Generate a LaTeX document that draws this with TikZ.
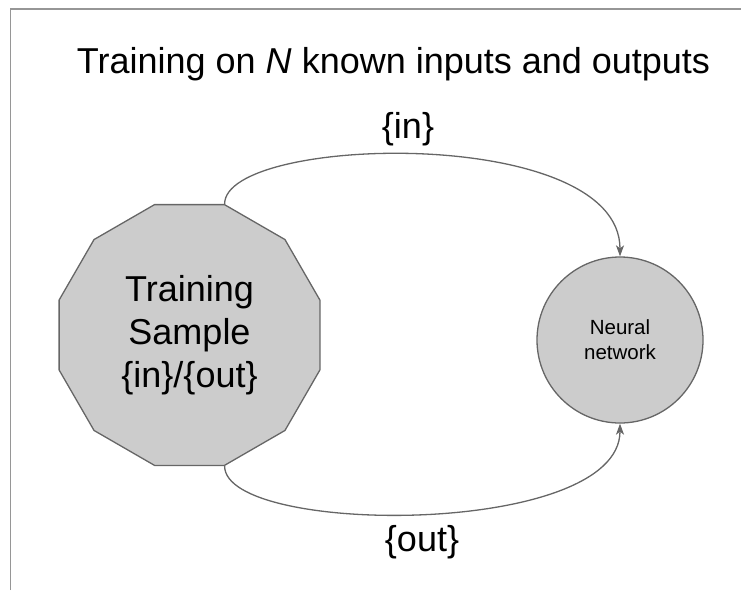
\documentclass[tikz,border=0pt]{standalone}
\usepackage{fontspec}
\setmainfont{Liberation Sans}
\usepackage{tikz}
\usetikzlibrary{arrows.meta,shapes.geometric,positioning}
\definecolor{nngray}{RGB}{102,102,102}
\definecolor{nnfill}{RGB}{204,204,204}
\definecolor{nnframe}{RGB}{150,150,150}
\tikzstyle{sample} = [regular polygon, regular polygon sides=12, minimum size=270pt, inner sep=0pt, draw=nngray, fill=nnfill, line width=1.3pt, align=center, font=\fontsize{36}{43}\selectfont]
\tikzstyle{network} = [circle, minimum size=166pt, inner sep=0pt, draw=nngray, fill=nnfill, line width=1.3pt, align=center, font=\fontsize{20.5}{25}\selectfont]
\tikzstyle{arrow} = [line width=1.3pt, -{Stealth[length=11pt,width=8pt,inset=3pt]}, color=nngray]
\tikzstyle{biglabel} = [font=\fontsize{36}{43}\selectfont]

\begin{document}
\begin{tikzpicture}[x=1pt,y=1pt]
\useasboundingbox (0,0) rectangle (741,-590);
% Slide frame
\draw[nnframe, line width=1.5pt] (10.5,-590) -- (10.5,-9) -- (741,-9);

% Title
\node[biglabel, anchor=base] (title) at (393.5,-73) {Training on \textit{N} known inputs and outputs};

% Training sample and network
\node[sample] (sample) at (189.5,-335) {Training\\Sample\\\{in\}/\{out\}};
\node[network] (net) at (620,-340) {Neural\\network};

% Arrows
\draw[arrow] (sample.75) .. controls +(0,69) and +(0,132) .. (net.north);
\draw[arrow] (sample.-75) .. controls +(0,-70) and +(0,-114) .. (net.south);

% Labels
\node[biglabel] (inlabel) at (408,-129) {\{in\}};
\node[biglabel] (outlabel) at (422,-542) {\{out\}};
\end{tikzpicture}
\end{document}
